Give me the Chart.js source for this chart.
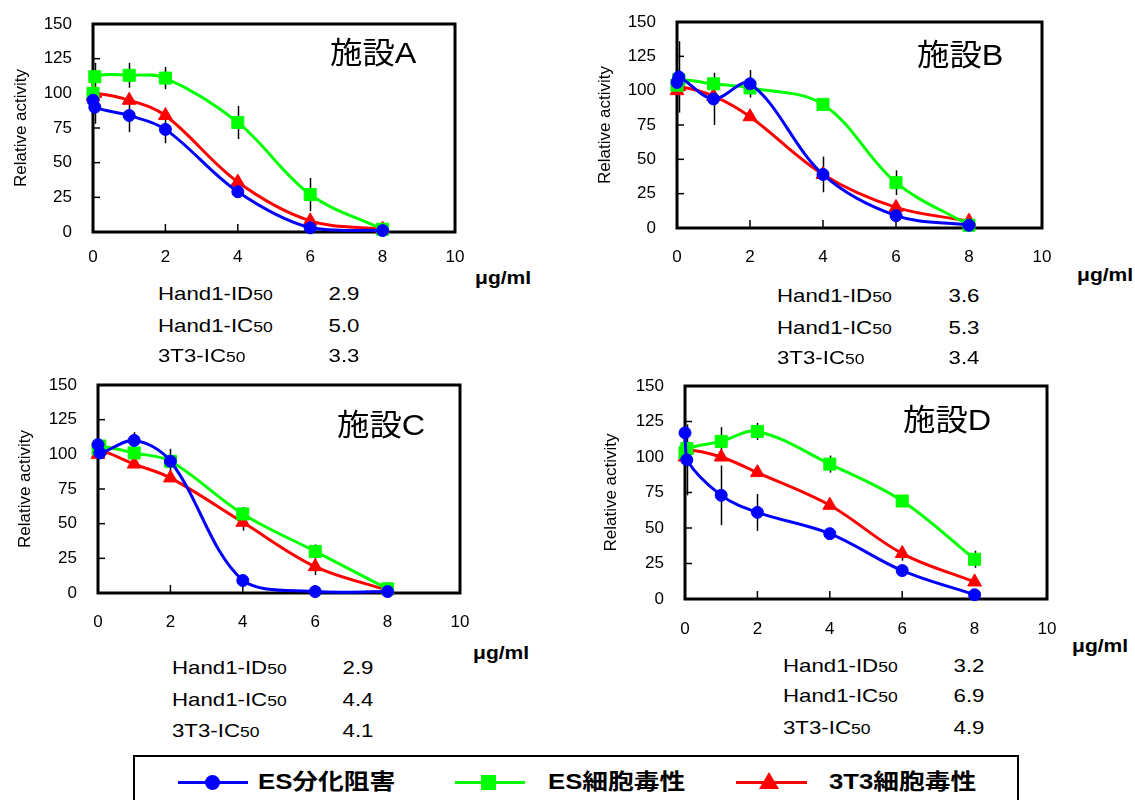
<!DOCTYPE html>
<html>
<head>
<meta charset="utf-8">
<script src="https://cdn.jsdelivr.net/npm/chart.js@4.4.1/dist/chart.umd.min.js"></script>
<style>
  body { margin: 0; background: #fff; width: 1135px; height: 800px; position: relative; overflow: hidden;
         font-family: 'Liberation Sans', 'Noto Sans CJK JP', sans-serif; color: #000; }
  canvas { position: absolute; }
  .t { position: absolute; white-space: nowrap; line-height: 1; }
  .legend-box { position: absolute; left: 133px; top: 755px; width: 882px; height: 60px; border: 2px solid #000; }
</style>
</head>
<body>
<canvas id="pA" width="470" height="268" style="left:0px;top:0px"></canvas>
<canvas id="pB" width="475" height="268" style="left:580px;top:0px"></canvas>
<canvas id="pC" width="475" height="270" style="left:0px;top:365px"></canvas>
<canvas id="pD" width="475" height="280" style="left:585px;top:365px"></canvas>
<div class="legend-box"></div>

<script>
// ---- data ----
const concentrations = [0, 0.05, 1, 2, 4, 6, 8];
const xTicks = [0, 2, 4, 6, 8, 10];
const yTicks = [0, 25, 50, 75, 100, 125, 150];
const seriesNames = ['ES分化阻害', 'ES細胞毒性', '3T3細胞毒性'];
const facilityNames = ['施設A', '施設B', '施設C', '施設D'];
const statNames = ['Hand1-ID', 'Hand1-IC', '3T3-IC'];

const esDiffA = [95, 90, 84, 74, 29, 3, 1];
const esCytoA = [100, 112, 113, 111, 79, 27, 2];
const t3CytoA = [98, 100, 95, 84, 36, 8, 2];
const esDiffErrA = [0, 12, 12, 10, 0, 0, 0];
const esCytoErrA = [0, 10, 9, 8, 12, 12, 0];
const t3CytoErrA = [0, 0, 0, 0, 0, 0, 0];
const statsA = [2.9, 5.0, 3.3];

const esDiffB = [106, 110, 94, 105, 39, 9, 2];
const esCytoB = [104, 108, 105, 102, 90, 33, 2];
const t3CytoB = [100, 103, 96, 81, 39, 15, 5];
const esDiffErrB = [0, 26, 19, 10, 13, 0, 0];
const esCytoErrB = [0, 0, 0, 0, 0, 9, 0];
const t3CytoErrB = [0, 0, 0, 0, 0, 0, 0];
const statsB = [3.6, 5.3, 3.4];

const esDiffC = [107, 101, 110, 95, 9, 1, 1];
const esCytoC = [104, 106, 101, 95, 57, 30, 3];
const t3CytoC = [100, 103, 93, 83, 51, 19, 2];
const esDiffErrC = [0, 0, 6, 9, 0, 0, 0];
const esCytoErrC = [0, 0, 0, 0, 5, 5, 0];
const t3CytoErrC = [0, 0, 0, 0, 6, 6, 0];
const statsC = [2.9, 4.4, 4.1];

const esDiffD = [117, 98, 73, 61, 46, 20, 3];
const esCytoD = [103, 106, 111, 118, 95, 69, 28];
const t3CytoD = [100, 105, 100, 89, 66, 32, 12];
const esDiffErrD = [0, 25, 21, 13, 4, 0, 0];
const esCytoErrD = [0, 0, 10, 6, 6, 0, 6];
const t3CytoErrD = [0, 0, 0, 0, 0, 5, 0];
const statsD = [3.2, 6.9, 4.9];

// ---- layout (page pixels) ----
const colors = ['#0000ff', '#00ff00', '#ff0000'];
const markers = ['circle', 'rect', 'triangle'];
const markerSize = [6, 8.5, 8];

const panels = [
  { id: 'pA', canvas: { left: 0, top: 0, w: 470, h: 268 }, area: { left: 93, top: 24, right: 455, bottom: 232 },
    yTitleX: 19, xGap: 23, title: { x: 330, cy: 53 }, stats: { x: 158, rows: [293, 325, 355], valX: 344 }, unit: { x: 475, cy: 278 },
    series: [esDiffA, esCytoA, t3CytoA], errs: [esDiffErrA, esCytoErrA, t3CytoErrA], stat: statsA },
  { id: 'pB', canvas: { left: 580, top: 0, w: 475, h: 268 }, area: { left: 677, top: 22, right: 1042, bottom: 228 },
    yTitleX: 603, xGap: 27, title: { x: 917, cy: 55 }, stats: { x: 777, rows: [295, 327, 357], valX: 964 }, unit: { x: 1077, cy: 275 },
    series: [esDiffB, esCytoB, t3CytoB], errs: [esDiffErrB, esCytoErrB, t3CytoErrB], stat: statsB },
  { id: 'pC', canvas: { left: 0, top: 365, w: 475, h: 270 }, area: { left: 98, top: 385, right: 460, bottom: 593 },
    yTitleX: 23, xGap: 27, title: { x: 337, cy: 425 }, stats: { x: 172, rows: [667, 699, 730], valX: 358 }, unit: { x: 473, cy: 653 },
    series: [esDiffC, esCytoC, t3CytoC], errs: [esDiffErrC, esCytoErrC, t3CytoErrC], stat: statsC },
  { id: 'pD', canvas: { left: 585, top: 365, w: 475, h: 280 }, area: { left: 685, top: 386, right: 1047, bottom: 599 },
    yTitleX: 609, xGap: 28, title: { x: 903, cy: 420 }, stats: { x: 783, rows: [665, 695, 727], valX: 969 }, unit: { x: 1072, cy: 646 },
    series: [esDiffD, esCytoD, t3CytoD], errs: [esDiffErrD, esCytoErrD, t3CytoErrD], stat: statsD }
];

const tickFont = { family: "'Liberation Sans', Arial, sans-serif", size: 17 };

// frame, inward ticks and error bars, drawn under the lines
const framePlugin = {
  id: 'frame',
  beforeDatasetsDraw(chart) {
    const { ctx, chartArea: a, scales: { x, y } } = chart;
    ctx.save();
    ctx.strokeStyle = '#000';
    ctx.lineWidth = 1.5;
    chart.data.datasets.forEach(ds => {
      ds.data.forEach(p => {
        if (!p.err) return;
        const px = Math.round(x.getPixelForValue(p.x)) + 0.5;
        ctx.beginPath();
        ctx.moveTo(px, y.getPixelForValue(p.y - p.err));
        ctx.lineTo(px, y.getPixelForValue(p.y + p.err));
        ctx.stroke();
      });
    });
    xTicks.forEach(v => {
      const px = x.getPixelForValue(v);
      ctx.beginPath(); ctx.moveTo(px, a.bottom); ctx.lineTo(px, a.bottom - 8); ctx.stroke();
    });
    yTicks.forEach(v => {
      const py = y.getPixelForValue(v);
      ctx.beginPath(); ctx.moveTo(a.left, py); ctx.lineTo(a.left + 7, py); ctx.stroke();
    });
    ctx.lineWidth = 3;
    ctx.strokeRect(a.left, a.top, a.right - a.left, a.bottom - a.top);
    ctx.restore();
  }
};

function addText(html, left, cy, size, extra) {
  const d = document.createElement('div');
  d.className = 't';
  d.innerHTML = html;
  d.style.left = left + 'px';
  d.style.top = (cy - size / 2) + 'px';
  d.style.fontSize = size + 'px';
  Object.assign(d.style, extra || {});
  document.body.appendChild(d);
  return d;
}

panels.forEach((P, i) => {
  const c = P.canvas;
  const datasets = P.series.map((vals, s) => ({
    label: seriesNames[s],
    data: concentrations.map((xv, k) => ({ x: xv, y: vals[k], err: P.errs[s][k] })),
    borderColor: colors[s],
    backgroundColor: colors[s],
    borderWidth: 3,
    pointStyle: markers[s],
    pointRadius: markerSize[s],
    pointBorderWidth: 1,
    tension: 0.35,
    clip: false
  }));

  new Chart(document.getElementById(P.id), {
    type: 'line',
    data: { datasets },
    options: {
      responsive: false,
      animation: false,
      events: [],
      layout: { padding: { left: 0, top: P.area.top - c.top, right: c.left + c.w - P.area.right, bottom: 0 } },
      plugins: { legend: { display: false }, tooltip: { enabled: false } },
      scales: {
        x: {
          type: 'linear', min: 0, max: 10,
          ticks: { stepSize: 2, padding: P.xGap - 8, color: '#000', font: tickFont, maxRotation: 0 },
          grid: { display: false, drawTicks: false },
          border: { display: false },
          afterFit(s) {
            s.height = c.top + c.h - P.area.bottom;
            s.paddingLeft = 0; s.paddingRight = 0;
          }
        },
        y: {
          min: 0, max: 150,
          ticks: { stepSize: 25, padding: 21, color: '#000', font: tickFont },
          grid: { display: false, drawTicks: false },
          border: { display: false },
          title: { display: true, text: 'Relative activity', color: '#000', font: tickFont,
                   padding: { top: P.yTitleX - c.left - 8, bottom: 0 } },
          afterFit(s) {
            s.width = P.area.left - c.left;
            s.paddingTop = 0; s.paddingBottom = 0;
          }
        }
      }
    },
    plugins: [framePlugin]
  });

  // facility title inside the plot
  addText(facilityNames[i], P.title.x, P.title.cy, 30, { transform: 'scaleX(1.08)', transformOrigin: '0 50%' });
  // unit label
  addText('μg/ml', P.unit.x, P.unit.cy, 18, { fontWeight: 'bold', transform: 'scaleX(1.17)', transformOrigin: '0 50%' });
  // IC50 / ID50 table
  statNames.forEach((n, r) => {
    addText(n + '<span style="font-size:15px">50</span>', P.stats.x, P.stats.rows[r], 19,
            { transform: 'scaleX(1.17)', transformOrigin: '0 50%' });
    addText(P.stat[r].toFixed(1), P.stats.valX - 40, P.stats.rows[r], 19,
            { width: '80px', textAlign: 'center', transform: 'scaleX(1.17)', transformOrigin: '50% 50%' });
  });
});

// ---- legend ----
const legendY = 782;
const legendItems = [
  { line: [178, 248], mark: 212, text: 258 },
  { line: [455, 525], mark: 488, text: 548 },
  { line: [736, 807], mark: 769, text: 829 }
];
legendItems.forEach((L, s) => {
  const line = document.createElement('div');
  Object.assign(line.style, { position: 'absolute', left: L.line[0] + 'px', top: (legendY - 1.5) + 'px',
    width: (L.line[1] - L.line[0]) + 'px', height: '3px', background: colors[s] });
  document.body.appendChild(line);
  const m = document.createElement('div');
  m.style.position = 'absolute';
  if (s === 2) {
    Object.assign(m.style, { left: (L.mark - 10) + 'px', top: (legendY - 10) + 'px', width: 0, height: 0,
      borderLeft: '10px solid transparent', borderRight: '10px solid transparent', borderBottom: '17px solid ' + colors[s] });
  } else {
    Object.assign(m.style, { left: (L.mark - 7.5) + 'px', top: (legendY - 7.5) + 'px', width: '15px', height: '15px',
      background: colors[s], borderRadius: s === 0 ? '50%' : '0' });
  }
  document.body.appendChild(m);
  addText(seriesNames[s], L.text, legendY, 22, { fontWeight: 'bold', transform: 'scaleX(1.17)', transformOrigin: '0 50%' });
});
</script>
</body>
</html>
